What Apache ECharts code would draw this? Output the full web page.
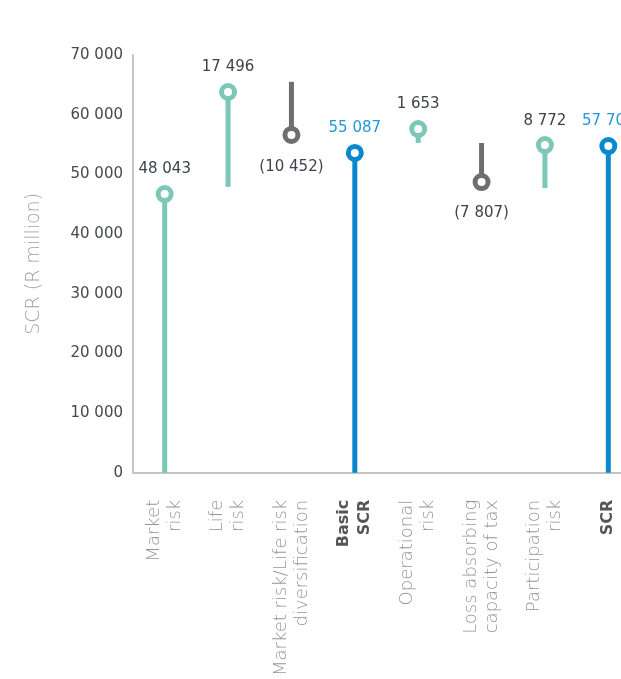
<!DOCTYPE html>
<html>
<head>
<meta charset="utf-8">
<script src="https://cdn.jsdelivr.net/npm/echarts@6/dist/echarts.min.js"></script>
<style>
html,body{margin:0;padding:0;background:#fff;overflow:hidden;width:621px;height:679px;}
#chart{width:660px;height:679px;}
</style>
</head>
<body>
<div id="chart"></div>
<script>
// Categories (x axis)
const categories = ['Market\nrisk', 'Life\nrisk', 'Market risk/Life risk\ndiversification', 'Basic\nSCR',
  'Operational\nrisk', 'Loss absorbing\ncapacity of tax', 'Participation\nrisk', 'SCR'];
// Kind of each step: up / down / total
const kinds = ['up', 'up', 'down', 'total', 'up', 'down', 'up', 'total'];
// Stem start and end (R million, as drawn in the picture); the circle sits at the end
const stemStart = [0, 47900, 65500, 0, 55250, 55250, 47700, 0];
const stemEnd = [46700, 63800, 56600, 53600, 57600, 48700, 54900, 54750];
// Printed value labels
const valueLabels = ['48 043', '17 496', '(10 452)', '55 087', '1 653', '(7 807)', '8 772', '57 705'];
// Y axis ticks
const yTickValues = [0, 10000, 20000, 30000, 40000, 50000, 60000, 70000];
const yTickLabels = ['0', '10 000', '20 000', '30 000', '40 000', '50 000', '60 000', '70 000'];

const colorOf = { up: '#7cc7b7', down: '#6d6e71', total: '#0a88cd' };
const labelColorOf = { up: '#3e434b', down: '#3e434b', total: '#2398d8' };
const FONT = 'DejaVu Sans';

const baseData = stemStart.map((s, i) => Math.min(s, stemEnd[i]));
const lenData = stemStart.map((s, i) => ({
  value: Math.abs(stemEnd[i] - s),
  itemStyle: { color: colorOf[kinds[i]], opacity: 1 }
}));
const markerData = stemEnd.map((v, i) => ({
  value: [i, v],
  itemStyle: { color: '#fff', borderColor: colorOf[kinds[i]], borderWidth: 5, opacity: 1 },
  label: {
    show: true,
    formatter: valueLabels[i],
    position: kinds[i] === 'down' ? 'bottom' : 'top',
    distance: kinds[i] === 'down' ? (i === 2 ? 16 : 14) : 8,
    color: labelColorOf[kinds[i]],
    fontFamily: FONT,
    fontSize: 15
  }
}));

const chart = echarts.init(document.getElementById('chart'), null, { renderer: 'canvas' });
chart.setOption({
  animation: false,
  backgroundColor: '#fff',
  grid: { left: 133, top: 55, width: 507, height: 418, containLabel: false },
  xAxis: {
    type: 'category',
    data: categories,
    axisLine: { lineStyle: { color: '#c4c4c4', width: 2 } },
    axisTick: { show: false },
    axisLabel: {
      rotate: 90,
      interval: 0,
      margin: 27,
      fontFamily: FONT,
      fontSize: 18,
      fontWeight: 200,
      color: '#959595',
      lineHeight: 21,
      formatter: function (v, i) {
        if (kinds[i] === 'total') {
          return v.split('\n').map(s => '{b|' + s + '}').join('\n');
        }
        return v;
      },
      rich: {
        b: { fontFamily: FONT, fontSize: 16, fontWeight: 'bold', color: '#555', lineHeight: 21 }
      }
    }
  },
  yAxis: {
    type: 'value',
    min: 0,
    max: 70000,
    interval: 10000,
    name: 'SCR (R million)',
    nameLocation: 'middle',
    nameRotate: 90,
    nameGap: 89,
    nameTextStyle: { fontFamily: FONT, fontSize: 19, fontWeight: 200, color: '#a0a0a0' },
    axisLine: { show: true, lineStyle: { color: '#c4c4c4', width: 2 } },
    axisTick: { show: false },
    splitLine: { show: false },
    axisLabel: {
      margin: 10,
      fontFamily: FONT,
      fontSize: 15,
      color: '#45484d',
      padding: [0, 0, 8, 0],
      formatter: function (v) {
        const idx = yTickValues.indexOf(v);
        return idx >= 0 ? yTickLabels[idx] : '';
      }
    }
  },
  series: [
    {
      type: 'bar', stack: 'stem', barWidth: 5, silent: true,
      itemStyle: { color: 'transparent' },
      data: baseData
    },
    {
      type: 'bar', stack: 'stem', barWidth: 5, silent: true,
      data: lenData
    },
    {
      type: 'scatter',
      symbol: 'circle',
      symbolSize: 13,
      z: 5,
      silent: true,
      itemStyle: { opacity: 1 },
      data: markerData
    }
  ]
});
</script>
</body>
</html>
